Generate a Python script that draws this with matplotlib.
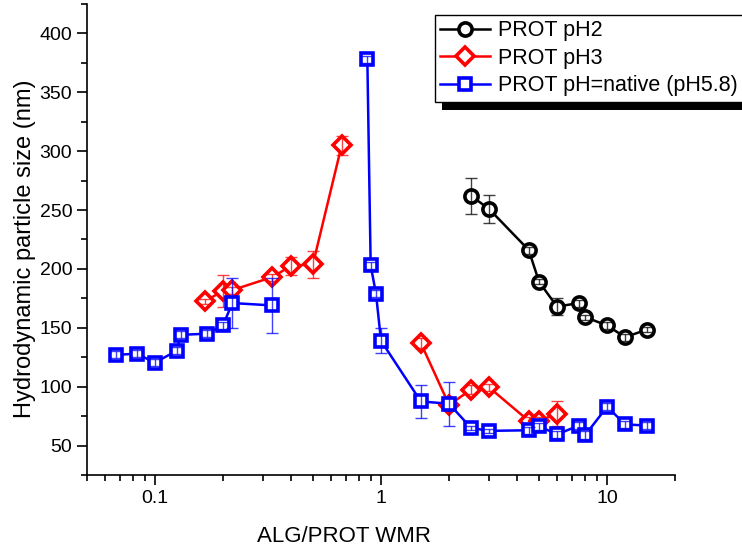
import numpy as np
import matplotlib
matplotlib.use('Agg')
import matplotlib.pyplot as plt
from matplotlib.ticker import LogLocator, FixedLocator, FuncFormatter, MultipleLocator
from matplotlib.patches import Rectangle

plt.rcParams['font.family'] = ['Liberation Sans', 'DejaVu Sans']

nan = np.nan

# PROT pH2
x_ph2 = [2.5, 3.0, 4.5, 5.0, 6.0, 7.5, 8.0, 10.0, 12.0, 15.0]
y_ph2 = [262, 251, 216, 189, 168, 171, 159, 152, 142, 148.5]
e_ph2 = [15, 12, 3, 2, 7.5, 3, 2, 3, 3, 2]

# PROT pH3 (nan = gap in the line)
x_ph3 = [0.167, 0.2, 0.22, 0.33, 0.4, 0.5, 0.67, nan, 1.5, 2.0, 2.5, 3.0, 4.5, 5.0, 6.0]
y_ph3 = [172.5, 181.5, 182, 193, 202.5, 204, 305, nan, 137, 84.5, 97.5, 99.5, 71, 71, 77]
e_ph3 = [2, 13.5, 3, 3, 8, 11.5, 8, nan, 4, 4, 4, 3, 3, 3, 10.5]

# PROT pH=native (pH5.8)
x_nat = [0.067, 0.083, 0.1, 0.125, 0.13, 0.17, 0.2, 0.22, 0.33, nan,
         0.87, 0.9, 0.95, 1.0, 1.5, 2.0, 2.5, 3.0, 4.5, 5.0, 6.0, 7.5, 8.0, 10.0, 12.0, 15.0]
y_nat = [127, 128, 120.5, 130.5, 144, 145, 152, 171, 169, nan,
         378, 203, 179, 139, 87.5, 85.5, 65, 62.5, 63, 66.5, 59.5, 67, 59, 83, 68, 67]
e_nat = [3, 3, 3, 3, 3, 3, 3, 21, 23, nan,
         3, 3, 3, 10.5, 14, 18.5, 2, 2, 3, 3, 3, 3, 3, 3, 3, 3]

fig = plt.figure(figsize=(7.42, 5.53), dpi=100)
ax = fig.add_axes([0.117, 0.141, 0.793, 0.852])

series = [
    (x_ph2, y_ph2, e_ph2, 'black', 'o', 9.5, 'PROT pH2', 3),
    (x_ph3, y_ph3, e_ph3, 'red', 'D', 9, 'PROT pH3', 4),
    (x_nat, y_nat, e_nat, 'blue', 's', 9, 'PROT pH=native (pH5.8)', 5),
]

handles = []
for xs, ys, es, c, m, ms, lab, z in series:
    h, = ax.plot(xs, ys, color=c, lw=1.8, marker=m, ms=ms, mfc='white',
                 mec=c, mew=2.6, label=lab, zorder=z)
    ax.errorbar(xs, ys, yerr=es, fmt='none', ecolor=c, elinewidth=1,
                capsize=4, capthick=1, alpha=0.75, zorder=z + 0.5)
    handles.append(h)

ax.set_xscale('log')
ax.set_xlim(0.05, 20)
ax.set_ylim(25, 425)

ax.xaxis.set_major_locator(FixedLocator([0.1, 1, 10]))
ax.xaxis.set_major_formatter(FuncFormatter(lambda v, p: '%g' % v))
ax.xaxis.set_minor_locator(LogLocator(base=10, subs=np.arange(2, 10)))
ax.xaxis.set_minor_formatter(FuncFormatter(lambda v, p: ''))
ax.yaxis.set_major_locator(FixedLocator([50, 100, 150, 200, 250, 300, 350, 400]))
ax.yaxis.set_minor_locator(MultipleLocator(25))

for s in ['top', 'right']:
    ax.spines[s].set_visible(False)
for s in ['left', 'bottom']:
    ax.spines[s].set_linewidth(1.2)

ax.tick_params(which='major', direction='out', length=7, width=1.2, labelsize=14)
ax.tick_params(which='minor', direction='out', length=4, width=1.2)

ax.set_xlabel('ALG/PROT WMR', fontsize=16)
ax.set_ylabel('Hydrodynamic particle size (nm)', fontsize=17)
ax.xaxis.set_label_coords(0.437, -0.108)
ax.yaxis.set_label_coords(-0.087, 0.48)

leg = fig.legend(handles=handles, loc='upper left',
                 bbox_to_anchor=(435 / 742, 1 - 15 / 553), fontsize=15.5,
                 frameon=True, fancybox=False, framealpha=1, edgecolor='black',
                 borderpad=0.25, handlelength=2.3, handletextpad=0.36,
                 labelspacing=0.3, borderaxespad=0)
leg.get_frame().set_linewidth(1)
leg.set_zorder(10)

# black drop shadow under the legend box
fig.canvas.draw()
bb = leg.get_window_extent().transformed(fig.transFigure.inverted())
dx, dy = 7 / 742, 8 / 553
fig.patches.append(Rectangle((bb.x0 + dx, bb.y0 - dy), bb.width, bb.height,
                             transform=fig.transFigure, facecolor='black',
                             edgecolor='none', zorder=9))

fig.savefig('out.png', dpi=100)
